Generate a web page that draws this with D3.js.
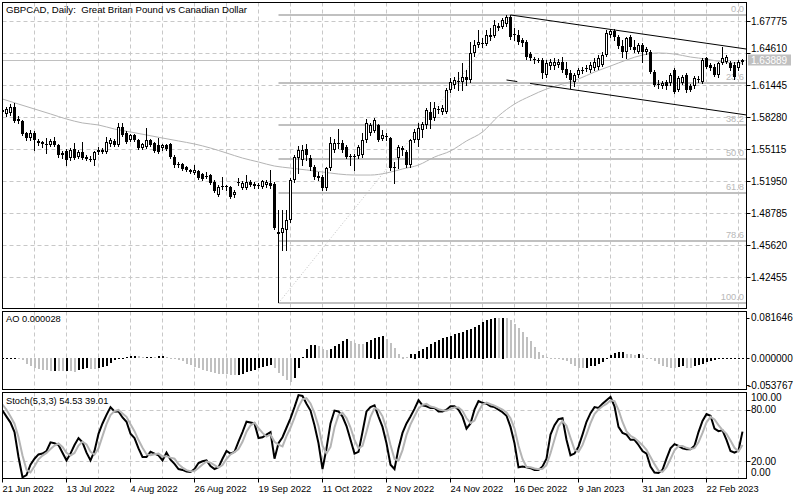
<!DOCTYPE html>
<html><head><meta charset="utf-8">
<script src="https://cdn.jsdelivr.net/npm/d3@7"></script>
<style>
html,body{margin:0;padding:0;background:#fff;}
svg{display:block;font-family:"Liberation Sans",Arial,sans-serif;font-size:10px;}
.lbl{font-size:9.3px;}
</style></head><body>
<svg id="c" width="800" height="500"></svg>
<script>
// ---------------- DATA ----------------
const symbolTitle = "GBPCAD, Daily:  Great Britan Pound vs Canadian Dollar";
const open = [1.5897,1.5858,1.5867,1.5927,1.5808,1.5788,1.5670,1.5620,1.5670,1.5591,1.5581,1.5561,1.5551,1.5591,1.5551,1.5452,1.5492,1.5422,1.5511,1.5432,1.5482,1.5432,1.5412,1.5403,1.5482,1.5502,1.5482,1.5561,1.5591,1.5551,1.5729,1.5670,1.5600,1.5650,1.5600,1.5521,1.5531,1.5600,1.5571,1.5551,1.5521,1.5551,1.5561,1.5432,1.5353,1.5363,1.5333,1.5304,1.5274,1.5294,1.5264,1.5234,1.5254,1.5185,1.5056,1.5136,1.5145,1.5136,1.5056,1.5175,1.5126,1.5126,1.5185,1.5165,1.5145,1.5136,1.5155,1.5175,1.5165,1.4691,1.4681,1.4710,1.4809,1.5205,1.5422,1.5403,1.5511,1.5422,1.5333,1.5225,1.5234,1.5126,1.5323,1.5502,1.5561,1.5571,1.5531,1.5432,1.5432,1.5442,1.5452,1.5600,1.5670,1.5689,1.5749,1.5610,1.5640,1.5620,1.5323,1.5422,1.5502,1.5482,1.5353,1.5600,1.5600,1.5699,1.5749,1.5877,1.5818,1.5907,1.5877,1.5877,1.6095,1.6144,1.6174,1.6174,1.6223,1.6194,1.6461,1.6540,1.6560,1.6550,1.6639,1.6629,1.6708,1.6718,1.6748,1.6817,1.6639,1.6639,1.6589,1.6570,1.6451,1.6401,1.6392,1.6392,1.6243,1.6332,1.6332,1.6342,1.6372,1.6303,1.6263,1.6174,1.6243,1.6293,1.6303,1.6293,1.6312,1.6322,1.6342,1.6441,1.6639,1.6678,1.6619,1.6530,1.6471,1.6619,1.6520,1.6471,1.6540,1.6471,1.6471,1.6273,1.6154,1.6135,1.6174,1.6164,1.6293,1.6095,1.6164,1.6243,1.6135,1.6135,1.6204,1.6174,1.6411,1.6342,1.6322,1.6243,1.6362,1.6372,1.6362,1.6342,1.6312,1.6372];
const high = [1.5937,1.5927,1.5956,1.5966,1.5838,1.5798,1.5680,1.5699,1.5689,1.5610,1.5591,1.5620,1.5610,1.5630,1.5561,1.5492,1.5511,1.5521,1.5571,1.5502,1.5581,1.5452,1.5442,1.5492,1.5531,1.5521,1.5630,1.5620,1.5610,1.5769,1.5769,1.5689,1.5660,1.5660,1.5610,1.5571,1.5719,1.5610,1.5581,1.5620,1.5561,1.5561,1.5571,1.5452,1.5383,1.5373,1.5343,1.5314,1.5353,1.5304,1.5274,1.5284,1.5264,1.5205,1.5155,1.5234,1.5155,1.5145,1.5106,1.5225,1.5195,1.5254,1.5205,1.5185,1.5175,1.5205,1.5205,1.5304,1.5185,1.4908,1.4908,1.4908,1.5225,1.5452,1.5541,1.5551,1.5561,1.5452,1.5353,1.5284,1.5254,1.5333,1.5630,1.5610,1.5709,1.5600,1.5551,1.5462,1.5462,1.5551,1.5670,1.5808,1.5769,1.5818,1.5759,1.5699,1.5670,1.5630,1.5383,1.5551,1.5541,1.5502,1.5610,1.5709,1.5769,1.5778,1.5917,1.5976,1.5976,1.5937,1.5947,1.6115,1.6214,1.6223,1.6273,1.6362,1.6293,1.6570,1.6589,1.6688,1.6609,1.6688,1.6708,1.6787,1.6758,1.6807,1.6837,1.6837,1.6708,1.6688,1.6609,1.6589,1.6471,1.6421,1.6411,1.6411,1.6392,1.6401,1.6411,1.6401,1.6421,1.6372,1.6293,1.6263,1.6312,1.6322,1.6342,1.6372,1.6411,1.6441,1.6471,1.6688,1.6698,1.6698,1.6639,1.6589,1.6619,1.6639,1.6589,1.6560,1.6560,1.6520,1.6491,1.6293,1.6194,1.6184,1.6194,1.6263,1.6312,1.6233,1.6243,1.6263,1.6154,1.6233,1.6233,1.6411,1.6421,1.6362,1.6352,1.6372,1.6520,1.6441,1.6382,1.6372,1.6392,1.6401];
const low = [1.5848,1.5838,1.5848,1.5778,1.5769,1.5650,1.5600,1.5600,1.5502,1.5551,1.5531,1.5472,1.5541,1.5541,1.5432,1.5422,1.5353,1.5403,1.5412,1.5422,1.5412,1.5403,1.5393,1.5353,1.5462,1.5472,1.5472,1.5541,1.5541,1.5541,1.5640,1.5571,1.5591,1.5591,1.5511,1.5511,1.5521,1.5541,1.5482,1.5472,1.5502,1.5502,1.5422,1.5333,1.5333,1.5304,1.5294,1.5274,1.5264,1.5215,1.5205,1.5225,1.5165,1.5086,1.5047,1.5116,1.5106,1.5027,1.5037,1.5155,1.5116,1.5116,1.5145,1.5126,1.5126,1.5126,1.5136,1.5126,1.4720,1.4463,1.4513,1.4513,1.4789,1.5185,1.5274,1.5353,1.5403,1.5304,1.5215,1.5205,1.5106,1.5106,1.5304,1.5482,1.5521,1.5482,1.5422,1.5353,1.5304,1.5422,1.5432,1.5581,1.5650,1.5680,1.5591,1.5600,1.5600,1.5304,1.5175,1.5323,1.5452,1.5333,1.5333,1.5581,1.5541,1.5630,1.5719,1.5719,1.5798,1.5867,1.5858,1.5867,1.6075,1.6115,1.6095,1.6095,1.6144,1.6174,1.6431,1.6520,1.6520,1.6540,1.6589,1.6619,1.6688,1.6708,1.6728,1.6599,1.6589,1.6550,1.6530,1.6401,1.6392,1.6362,1.6372,1.6214,1.6223,1.6303,1.6303,1.6322,1.6273,1.6223,1.6115,1.6135,1.6223,1.6263,1.6283,1.6273,1.6293,1.6303,1.6332,1.6431,1.6619,1.6589,1.6510,1.6421,1.6411,1.6500,1.6471,1.6461,1.6372,1.6451,1.6263,1.6135,1.6115,1.6115,1.6105,1.6144,1.6065,1.6085,1.6154,1.6075,1.6085,1.6115,1.6174,1.6164,1.6312,1.6293,1.6233,1.6223,1.6352,1.6362,1.6293,1.6204,1.6293,1.6352];
const close = [1.5877,1.5907,1.5927,1.5788,1.5788,1.5660,1.5620,1.5670,1.5600,1.5571,1.5561,1.5551,1.5591,1.5551,1.5452,1.5472,1.5403,1.5502,1.5422,1.5482,1.5422,1.5412,1.5403,1.5482,1.5502,1.5482,1.5581,1.5600,1.5551,1.5729,1.5650,1.5581,1.5650,1.5600,1.5521,1.5561,1.5600,1.5551,1.5492,1.5482,1.5551,1.5511,1.5432,1.5353,1.5363,1.5314,1.5304,1.5284,1.5304,1.5225,1.5215,1.5244,1.5175,1.5096,1.5136,1.5145,1.5136,1.5037,1.5086,1.5185,1.5175,1.5185,1.5155,1.5145,1.5155,1.5195,1.5185,1.5145,1.4730,1.4671,1.4730,1.4809,1.5205,1.5432,1.5502,1.5502,1.5452,1.5333,1.5234,1.5244,1.5126,1.5323,1.5571,1.5571,1.5571,1.5502,1.5432,1.5442,1.5442,1.5531,1.5600,1.5769,1.5749,1.5798,1.5600,1.5650,1.5630,1.5323,1.5333,1.5531,1.5521,1.5353,1.5600,1.5680,1.5719,1.5759,1.5897,1.5798,1.5917,1.5897,1.5917,1.6095,1.6174,1.6194,1.6184,1.6223,1.6194,1.6461,1.6540,1.6570,1.6550,1.6639,1.6619,1.6738,1.6728,1.6787,1.6817,1.6619,1.6649,1.6570,1.6560,1.6421,1.6411,1.6392,1.6382,1.6263,1.6362,1.6372,1.6372,1.6372,1.6293,1.6243,1.6194,1.6243,1.6293,1.6283,1.6312,1.6342,1.6372,1.6411,1.6441,1.6659,1.6678,1.6619,1.6530,1.6471,1.6609,1.6520,1.6491,1.6540,1.6471,1.6500,1.6273,1.6144,1.6144,1.6164,1.6135,1.6243,1.6075,1.6214,1.6223,1.6095,1.6095,1.6214,1.6194,1.6392,1.6322,1.6312,1.6243,1.6362,1.6411,1.6421,1.6312,1.6223,1.6372,1.63889];

const maIdx = [0,4,8,12,16,20,24,28,32,36,40,44,48,52,56,60,64,68,72,76,80,84,88,92,96,100,104,108,112,116,120,124,128,132,136,140,144,148,152,156,160,164,168,172,176,180,184,185];
const maVal = [1.6006,1.5956,1.5907,1.5858,1.5808,1.5769,1.5749,1.5709,1.5680,1.5650,1.5620,1.5591,1.5561,1.5521,1.5472,1.5422,1.5383,1.5343,1.5323,1.5304,1.5284,1.5264,1.5254,1.5254,1.5274,1.5314,1.5353,1.5432,1.5492,1.5591,1.5680,1.5838,1.5956,1.6036,1.6105,1.6154,1.6204,1.6273,1.6332,1.6392,1.6441,1.6461,1.6451,1.6421,1.6401,1.6372,1.6362,1.6362];

const aoVal = [0.0005,0.0008,0.0010,0.0011,-0.002,-0.005,-0.012,-0.017,-0.020,-0.022,-0.024,-0.025,-0.027,-0.0255,-0.026,-0.027,-0.0255,-0.027,-0.0275,-0.025,-0.0215,-0.020,-0.022,-0.023,-0.020,-0.018,-0.0155,-0.010,-0.005,-0.002,0.001,0.003,0.004,0.0047,0.0035,0.002,0.0027,0.003,0.002,0.0035,0.0036,0.0015,0.0,-0.0013,-0.0033,-0.007,-0.012,-0.0148,-0.0175,-0.020,-0.0235,-0.0255,-0.028,-0.030,-0.0315,-0.032,-0.033,-0.0335,-0.034,-0.0333,-0.0315,-0.029,-0.0255,-0.0235,-0.020,-0.018,-0.0167,-0.0147,-0.020,-0.030,-0.037,-0.044,-0.0485,-0.040,-0.020,0.003,0.019,0.0255,0.027,0.0235,0.019,0.017,0.019,0.0235,0.028,0.0335,0.038,0.0335,0.030,0.029,0.028,0.032,0.037,0.0415,0.0435,0.045,0.038,0.030,0.020,0.0087,0.0034,0.0015,0.008,0.0094,0.0147,0.0187,0.0234,0.028,0.032,0.036,0.040,0.0428,0.0455,0.048,0.051,0.0535,0.056,0.059,0.063,0.067,0.0736,0.077,0.079,0.0803,0.0800,0.081646,0.0805,0.0763,0.0682,0.0602,0.0522,0.0421,0.0335,0.0234,0.0134,0.0067,0.002,-0.0005,-0.001,-0.002,-0.004,-0.007,-0.012,-0.017,-0.020,-0.021,-0.0195,-0.0167,-0.0154,-0.012,-0.008,-0.002,0.0067,0.010,0.012,0.0125,0.0087,0.008,0.0067,0.0088,0.006,0.0013,-0.002,-0.0067,-0.0114,-0.0154,-0.0187,-0.020,-0.0207,-0.018,-0.0167,-0.020,-0.0207,-0.0167,-0.0147,-0.0114,-0.008,-0.0054,-0.0033,-0.002,-0.0013,-0.0007,-0.0003,-0.0001,-0.00005,0.000028];
const aoMax = 0.081646, aoMin = -0.053767;

const stochK = [79,72,65,54,25,1.4,4,16,23,28,29,32,42,41,39,30,21,29,39,47,42,30,21,32,52,64,74,83,78,78,71,66,52,47,35,25,25,31,29,27,21,30,22,17,11,10,8,7.5,11,18,20,21,14.5,11,13,23,32,29,31,43,54,66,65,64,47,48,51,54,23,41,48,59,70,83,97,96,87,79,62,41,11,35,64,79,78,72,61,45,29,31,54,78,83,85,72,60,41,16,11,35,53,64,72,81,91,85,84,82,82,78,78,80,84,84,80,72,58,64,80,90,88,87,84,83,80,77,73,60,41,13,14,13,12,10,10,14,23,51,62,69,70,45,27,29,37,51,66,76,83,82,87,91,95,84,60,53,51,45,45,39,32,29,14,7,6.5,10,23,35,40,38,35,34,34,38,54,67,75,73,58,55,56,45,32,30,32.5,54.53];
const stochD = [86,80,72,63.7,48,26.8,10.1,7.1,14.3,22.3,26.7,29.7,34.3,38.3,40.7,36.7,30,26.7,29.7,38.3,42.7,39.7,31,27.7,35,49.3,63.3,73.7,78.3,79.7,75.7,71.7,63,55,44.7,35.7,28.3,27,28.3,29,25.7,26,24.3,23,16.7,12.7,9.7,8.5,8.8,12.2,16.3,19.7,18.5,15.5,12.8,15.7,22.7,28,30.7,34.3,42.7,54.3,61.7,65,58.7,53,48.7,51,42.7,39.3,37.3,49.3,59,70.7,83.3,92,93.3,87.3,76,60.7,38,29,36.7,59.3,73.7,76.3,70.3,59.3,45,35,38,54.3,71.7,82,80,72.3,57.7,39,22.7,20.7,33,50.7,63,72.3,81.3,85.7,86.7,83.7,82.7,80.7,79.3,78.7,80.7,82.7,82.7,78.7,70,64.7,67.3,78,86,88.3,86.3,84.7,82.3,80,76.7,70,58,38,22.7,13.3,13,11.7,10.7,11.3,15.7,29.3,45.3,60.7,67,61.3,47.3,33.7,31,39,51.3,64.3,75,80.3,84,86.7,91,90,79.7,65.7,54.7,49.7,47,43,38.7,33.3,25,16.7,9.2,7.8,13.2,22.7,32.7,37.7,37.7,35.7,34.3,35.3,42,53,65.3,71.7,68.7,62,56.3,52,44.3,35.7,31.5,39.01];

const priceTicks = [1.67775,1.64610,1.61445,1.58280,1.55115,1.51950,1.48785,1.45620,1.42455];
const bidPrice = 1.63889;
const dateLabels = ["21 Jun 2022","13 Jul 2022","4 Aug 2022","26 Aug 2022","19 Sep 2022","11 Oct 2022","2 Nov 2022","24 Nov 2022","16 Dec 2022","9 Jan 2023","31 Jan 2023","22 Feb 2023"];
const dateIdx = [0,16,32,48,64,80,96,112,128,144,160,176];
const stochLevels = [100,80,20,0];
const stochLevelText = ["100.00","80.00","20.00","0.00"];
const fibLevels = [0,23.6,38.2,50,61.8,78.6,100];
const fibLevelText = ["0.0","23.6","38.2","50.0","61.8","78.6","100.0"];
const fibHigh = 1.6837, fibLow = 1.3988, fibBarLow = 69, fibBarHigh = 127;
const chanUpper = [{i:127,p:1.6837},{i:186,p:1.6500}];
const chanLower = [{i:126,p:1.6194},{i:186,p:1.5848}];
const chanLowerGap = [128.7,131.9];

// ---------------- LAYOUT ----------------
const LEFT = 2.5, RIGHT = 746.5;
const mainP = {top:2.5, bottom:308.5};
const aoP = {top:311.5, bottom:389.5};
const stP = {top:392.5, bottom:478.5};
const GRID = "#c8c8c8", LIGHT = "#c0c0c0";

const svg = d3.select("#c");
const x = d3.scaleLinear().domain([0,185]).range([2.5,742.5]);
const yP = d3.scaleLinear().domain([1.42455,1.67775]).range([277,21]);
const yA = d3.scaleLinear().domain([aoMin,aoMax]).range([385,317.5]);
const yS = d3.scaleLinear().domain([0,100]).range([478.5,392.5]);
const snap = v => Math.round(v) + 0.5;

const defs = svg.append("defs");
[["cm",mainP],["ca",aoP],["cs",stP]].forEach(([id,p]) => {
  defs.append("clipPath").attr("id",id).append("rect")
    .attr("x",LEFT+0.5).attr("y",p.top+0.5).attr("width",RIGHT-LEFT-1).attr("height",p.bottom-p.top-1);
});

// vertical grid in all panels
const gridBars = d3.range(8,186,8);
[mainP,aoP,stP].forEach(p => {
  svg.append("g").selectAll("line").data(gridBars).join("line")
    .attr("x1",i=>x(i)).attr("x2",i=>x(i)).attr("y1",p.top).attr("y2",p.bottom)
    .attr("stroke",GRID).attr("stroke-dasharray","4,3");
});
// horizontal grid main
svg.append("g").selectAll("line").data(priceTicks).join("line")
  .attr("x1",LEFT).attr("x2",RIGHT).attr("y1",d=>snap(yP(d))).attr("y2",d=>snap(yP(d)))
  .attr("stroke",GRID).attr("stroke-dasharray","4,3");
// stoch levels grid
svg.append("g").selectAll("line").data([80,20]).join("line")
  .attr("x1",LEFT).attr("x2",RIGHT).attr("y1",d=>snap(yS(d))).attr("y2",d=>snap(yS(d)))
  .attr("stroke",GRID).attr("stroke-dasharray","4,3");

// ---------- main panel objects ----------
const gm = svg.append("g").attr("clip-path","url(#cm)");
const fibPrice = l => fibHigh - l/100*(fibHigh - fibLow);
gm.append("g").selectAll("line").data(fibLevels).join("line")
  .attr("x1",x(fibBarLow)).attr("x2",RIGHT).attr("y1",d=>Math.round(yP(fibPrice(d)))).attr("y2",d=>Math.round(yP(fibPrice(d))))
  .attr("stroke",LIGHT).attr("stroke-width",2);
gm.append("g").attr("class","lbl").selectAll("text").data(fibLevels).join("text")
  .attr("x",744).attr("y",d=>Math.round(yP(fibPrice(d)))-3).attr("text-anchor","end")
  .attr("fill","#b8b8b8").text((d,k)=>fibLevelText[k]);
gm.append("line").attr("x1",x(fibBarLow)).attr("y1",yP(fibLow)).attr("x2",x(fibBarHigh)).attr("y2",yP(fibHigh))
  .attr("stroke",LIGHT).attr("stroke-dasharray","1,2");
gm.append("line").attr("x1",x(fibBarLow)).attr("x2",x(fibBarLow))
  .attr("y1",Math.round(yP(fibLow))).attr("y2",yP(low[fibBarLow])).attr("stroke","#000");

// bid line
gm.append("line").attr("x1",LEFT).attr("x2",RIGHT).attr("y1",snap(yP(bidPrice))).attr("y2",snap(yP(bidPrice)))
  .attr("stroke",LIGHT);

// moving average
gm.append("path").datum(maIdx.map((i,k)=>[i,maVal[k]]))
  .attr("d",d3.line().x(d=>x(d[0])).y(d=>yP(d[1])).curve(d3.curveMonotoneX))
  .attr("fill","none").attr("stroke","#b4b4b4").attr("stroke-width",1);

// candles
const idx = d3.range(open.length);
const gc = gm.append("g");
gc.selectAll("line").data(idx).join("line")
  .attr("x1",i=>x(i)).attr("x2",i=>x(i))
  .attr("y1",i=>Math.round(yP(high[i]))).attr("y2",i=>Math.round(yP(low[i]))+1)
  .attr("stroke","#000");
gc.selectAll("rect").data(idx).join("rect")
  .each(function(i){
    const top = Math.round(yP(Math.max(open[i],close[i])));
    const bot = Math.round(yP(Math.min(open[i],close[i])));
    const s = d3.select(this);
    if (close[i] > open[i] && bot - top >= 2) {
      s.attr("x",x(i)-1).attr("y",top+0.5).attr("width",2).attr("height",bot-top-1)
       .attr("fill","#fff").attr("stroke","#000");
    } else {
      s.attr("x",x(i)-1.5).attr("y",top).attr("width",3).attr("height",Math.max(bot-top,1)).attr("fill","#000");
    }
  });

// channel
const chLine = d3.line().x(d=>x(d.i)).y(d=>yP(d.p));
gm.append("path").attr("d",chLine(chanUpper)).attr("stroke","#000").attr("fill","none");
const lowAt = i => chanLower[0].p + (chanLower[1].p-chanLower[0].p)*(i-chanLower[0].i)/(chanLower[1].i-chanLower[0].i);
gm.append("path").attr("d",chLine([chanLower[0],{i:chanLowerGap[0],p:lowAt(chanLowerGap[0])}])).attr("stroke","#000").attr("fill","none");
gm.append("path").attr("d",chLine([{i:chanLowerGap[1],p:lowAt(chanLowerGap[1])},chanLower[1]])).attr("stroke","#000").attr("fill","none");

// ---------- AO ----------
const ga = svg.append("g").attr("clip-path","url(#ca)");
ga.selectAll("rect").data(idx).join("rect")
  .attr("x",i=>x(i)-0.5).attr("width",2)
  .attr("y",i=>Math.round(Math.min(yA(0),yA(aoVal[i]))))
  .attr("height",i=>Math.max(1,Math.round(Math.abs(yA(aoVal[i])-yA(0)))))
  .attr("fill",i=> i===0 || aoVal[i] > aoVal[i-1] ? "#000" : LIGHT);

// ---------- Stochastic ----------
const gs = svg.append("g").attr("clip-path","url(#cs)");
const sl = arr => d3.line().x((d,i)=>x(i)).y(d=>yS(d))(arr);
gs.append("path").attr("d",sl(stochK)).attr("fill","none").attr("stroke","#000").attr("stroke-width",2);
gs.append("path").attr("d",sl(stochD)).attr("fill","none").attr("stroke","#b4b4b4").attr("stroke-width",2);

// ---------- frames ----------
[mainP,aoP,stP].forEach(p => {
  svg.append("rect").attr("x",LEFT).attr("y",p.top).attr("width",RIGHT-LEFT).attr("height",p.bottom-p.top)
    .attr("fill","none").attr("stroke","#000");
});

// ---------- right axes ----------
const ax = svg.append("g");
const bidY = Math.round(yP(bidPrice));
priceTicks.forEach(v => {
  const y = snap(yP(v));
  let ty = y;
  if (Math.abs(y - bidY) < 12) ty = y < bidY ? bidY - 12 : bidY + 12;
  ax.append("line").attr("x1",RIGHT).attr("x2",RIGHT+4).attr("y1",y).attr("y2",y).attr("stroke","#000");
  ax.append("text").attr("x",751).attr("y",ty).attr("dy","0.35em").text(v.toFixed(5));
});
// bid label
ax.append("rect").attr("x",748).attr("y",bidY-5.5).attr("width",43).attr("height",11).attr("fill",LIGHT);
ax.append("text").attr("x",751).attr("y",bidY).attr("dy","0.35em").attr("fill","#fff").text(bidPrice.toFixed(5));

// AO axis
[aoMax,0,aoMin].forEach(v => {
  const y = yA(v);
  ax.append("line").attr("x1",RIGHT).attr("x2",RIGHT+3).attr("y1",snap(y)).attr("y2",snap(y)).attr("stroke","#000");
  ax.append("text").attr("x", v<0 ? 748 : 751).attr("y",y).attr("dy","0.35em").text(v.toFixed(6));
});
// Stoch axis
stochLevels.forEach((v,k) => {
  const y = Math.min(Math.max(yS(v), stP.top+4.5), stP.bottom-6.5);
  if (v>0 && v<100) ax.append("line").attr("x1",RIGHT).attr("x2",RIGHT+4).attr("y1",snap(yS(v))).attr("y2",snap(yS(v))).attr("stroke","#000");
  ax.append("text").attr("x",751).attr("y",y).attr("dy","0.35em").text(stochLevelText[k]);
});

// ---------- time axis ----------
dateIdx.forEach((i,k) => {
  ax.append("line").attr("x1",x(i)).attr("x2",x(i)).attr("y1",stP.bottom).attr("y2",stP.bottom+4).attr("stroke","#000");
  ax.append("text").attr("class","lbl").attr("x",x(i)).attr("y",492).text(dateLabels[k]);
});

// ---------- titles ----------
svg.append("text").attr("class","lbl").attr("x",6).attr("y",13).style("white-space","pre").style("font-size","9.6px").text(symbolTitle);
svg.append("text").attr("class","lbl").attr("x",6).attr("y",322).text("AO " + aoVal[aoVal.length-1].toFixed(6));
svg.append("text").attr("class","lbl").attr("x",6).attr("y",404).text("Stoch(5,3,3) " + stochK[stochK.length-1].toFixed(2) + " " + stochD[stochD.length-1].toFixed(2));
</script>
</body></html>
